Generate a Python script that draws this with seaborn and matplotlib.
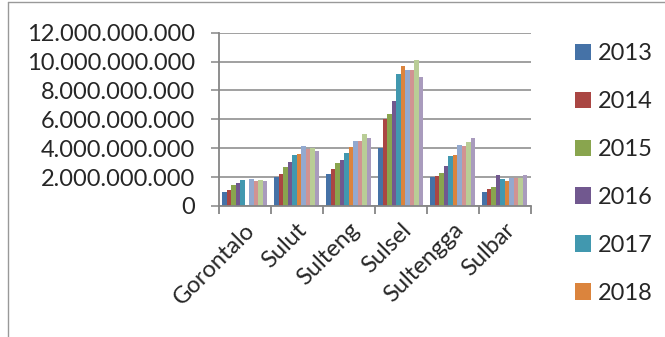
import numpy as np
import pandas as pd
import seaborn as sns
import matplotlib
matplotlib.use("Agg")
import matplotlib.pyplot as plt
from matplotlib.lines import Line2D
from matplotlib.transforms import ScaledTranslation

# Provinces on the x axis
provinces = ["Gorontalo", "Sulut", "Sulteng", "Sulsel", "Sultengga", "Sulbar"]
years = ["2013", "2014", "2015", "2016", "2017", "2018",
         "2019", "2020", "2021", "2022"]
# Years listed in the legend
legend_years = ["2013", "2014", "2015", "2016", "2017", "2018"]

# Values per year, one entry per province
v2013 = [0.99e9, 1.98e9, 2.21e9, 4.02e9, 2.00e9, 0.99e9]
v2014 = [1.13e9, 2.18e9, 2.55e9, 6.05e9, 2.05e9, 1.17e9]
v2015 = [1.45e9, 2.67e9, 2.99e9, 6.37e9, 2.28e9, 1.33e9]
v2016 = [1.59e9, 3.01e9, 3.20e9, 7.26e9, 2.74e9, 2.11e9]
v2017 = [1.77e9, 3.54e9, 3.66e9, 9.17e9, 3.49e9, 1.89e9]
v2018 = [0.0,    3.61e9, 4.07e9, 9.66e9, 3.54e9, 1.72e9]
v2019 = [1.86e9, 4.14e9, 4.53e9, 9.43e9, 4.21e9, 1.95e9]
v2020 = [1.72e9, 3.95e9, 4.53e9, 9.43e9, 4.14e9, 1.95e9]
v2021 = [1.79e9, 4.02e9, 4.97e9, 10.14e9, 4.46e9, 1.95e9]
v2022 = [1.70e9, 3.79e9, 4.69e9, 8.90e9, 4.71e9, 2.14e9]

series = [v2013, v2014, v2015, v2016, v2017, v2018, v2019, v2020, v2021, v2022]

colors = ["#4572A7", "#AA4643", "#89A54E", "#71588F", "#4198AF",
          "#DB843D", "#93A9CF", "#D19392", "#B9CD96", "#A99BBD"]

rows = []
for y, vals in zip(years, series):
    for p, v in zip(provinces, vals):
        rows.append({"Provinsi": p, "Tahun": y, "Nilai": v})
df = pd.DataFrame(rows)

sns.set_style("white")
plt.rcParams["font.family"] = ["Lato", "DejaVu Sans"]
FS = 17

fig = plt.figure(figsize=(6.65, 3.37), dpi=100)
ax = fig.add_axes([0.329, 0.389, 0.469, 0.514])

sns.barplot(data=df, x="Provinsi", y="Nilai", hue="Tahun", order=provinces,
            hue_order=years, palette=colors, width=0.87, saturation=1,
            linewidth=0, ax=ax)

ax.set_ylim(0, 12e9)
ax.set_xlim(-0.5, len(provinces) - 0.5)
yt = np.arange(0, 12.01e9, 2e9)
ax.set_yticks(yt)
ax.set_yticklabels([f"{int(v):,}".replace(",", ".") for v in yt], fontsize=FS)
ax.yaxis.grid(True, color="#868686", linewidth=1.1)
ax.set_axisbelow(True)
ax.set_xlabel("")
ax.set_ylabel("")

for s in ["top", "right"]:
    ax.spines[s].set_visible(False)
for s in ["left", "bottom"]:
    ax.spines[s].set_color("#868686")
    ax.spines[s].set_linewidth(1.3)

ax.tick_params(axis="y", left=True, length=6, width=1.1, color="#868686",
               pad=11)
# category labels at centres, tick marks at the boundaries
ax.set_xticks(range(len(provinces)))
ax.set_xticklabels(provinces, fontsize=FS, rotation=45, ha="right",
                   rotation_mode="anchor", va="center")
ax.tick_params(axis="x", which="major", bottom=True, length=0, pad=15)
shift = ScaledTranslation(7 / 100, 0, fig.dpi_scale_trans)
for lbl in ax.get_xticklabels():
    lbl.set_transform(lbl.get_transform() + shift)
ax.set_xticks(np.arange(-0.5, len(provinces)), minor=True)
ax.tick_params(axis="x", which="minor", bottom=True, length=6, width=1.3,
               color="#868686")

handles, labels = ax.get_legend_handles_labels()
pairs = [(h, l) for h, l in zip(handles, labels) if l in legend_years]
ax.legend([h for h, _ in pairs], [l for _, l in pairs], loc="upper left",
          bbox_to_anchor=(0.864, 0.872), bbox_transform=fig.transFigure,
          frameon=False, fontsize=FS, handlelength=0.68, handleheight=0.68,
          handletextpad=0.3, labelspacing=1.14, borderaxespad=0, borderpad=0)

# outer chart frame
fig.add_artist(Line2D([8 / 665, 8 / 665], [0, 1 - 2 / 337], color="#999999",
                      linewidth=1.0, transform=fig.transFigure))
fig.add_artist(Line2D([8 / 665, 1], [1 - 2 / 337, 1 - 2 / 337],
                      color="#999999", linewidth=1.0,
                      transform=fig.transFigure))

fig.savefig("out.png", dpi=100)
